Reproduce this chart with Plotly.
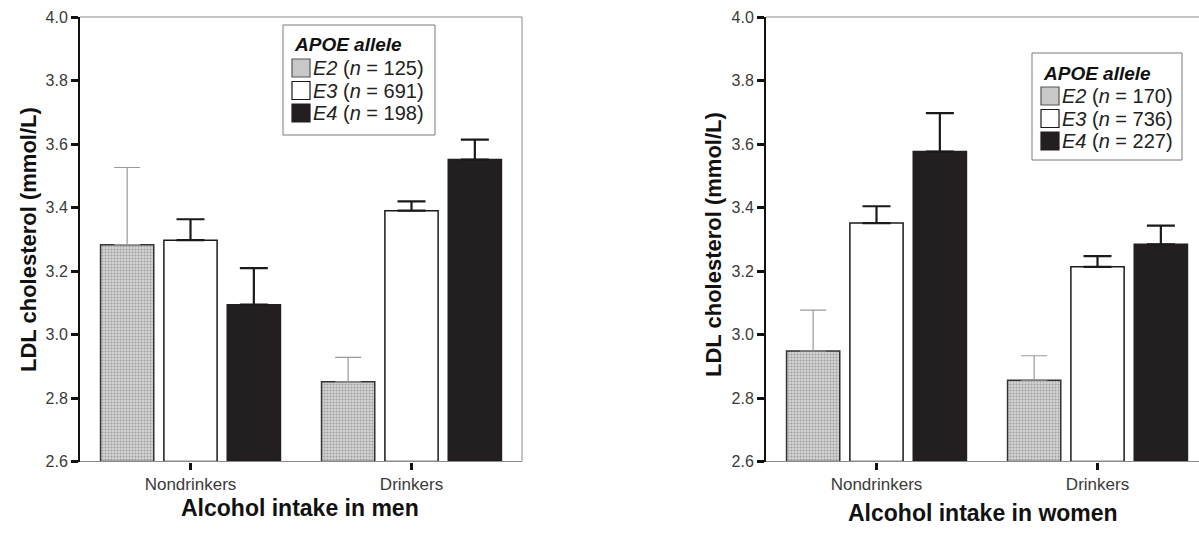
import plotly.graph_objects as go

categories = ["Nondrinkers", "Drinkers"]
alleles = ["E2", "E3", "E4"]

men_n = [125, 691, 198]
women_n = [170, 736, 227]

men_mean = {"E2": [3.283, 2.851], "E3": [3.297, 3.390], "E4": [3.094, 3.551]}
men_upper = {"E2": [3.526, 2.928], "E3": [3.363, 3.419], "E4": [3.209, 3.614]}

women_mean = {"E2": [2.948, 2.856], "E3": [3.351, 3.213], "E4": [3.576, 3.284]}
women_upper = {"E2": [3.077, 2.933], "E3": [3.404, 3.247], "E4": [3.697, 3.343]}

legend_title = "APOE allele"

W, H = 1199, 534
FONT = "Liberation Sans, Arial, Helvetica, sans-serif"

styles = {
    "E2": dict(color="#c4c4c4", line=dict(color="#333333", width=1.5),
               pattern=dict(shape=".", fgcolor="#6e6e6e", bgcolor="#d4d4d4", size=3, solidity=0.4)),
    "E3": dict(color="#ffffff", line=dict(color="#1a1a1a", width=1.5)),
    "E4": dict(color="#231f20", line=dict(color="#231f20", width=1.5)),
}
swatch = {
    "E2": dict(fill="#c8c8c8", line="#555555"),
    "E3": dict(fill="#ffffff", line="#1a1a1a"),
    "E4": dict(fill="#231f20", line="#231f20"),
}
err_style = {
    "E2": dict(color="#9a9a9a", thickness=1.2, width=13),
    "E3": dict(color="#1a1a1a", thickness=2.2, width=14),
    "E4": dict(color="#1a1a1a", thickness=2.2, width=14),
}

fig = go.Figure()

def add_panel(mean, upper, ns, xa, ya):
    for a, n in zip(alleles, ns):
        plus = [u - m for u, m in zip(upper[a], mean[a])]
        fig.add_trace(go.Bar(
            x=[0, 1], y=[v - 2.6 for v in mean[a]], base=2.6,
            name=f"{a} (n = {n})",
            marker=styles[a],
            error_y=dict(type="data", symmetric=False, array=plus,
                         arrayminus=[0, 0], **err_style[a]),
            xaxis=xa, yaxis=ya, showlegend=False,
        ))

add_panel(men_mean, men_upper, men_n, "x", "y")
add_panel(women_mean, women_upper, women_n, "x2", "y2")

y_top, y_bot = 17, 461.5
ydom = [(H - y_bot) / H, (H - y_top) / H]
L1, R1 = 80, 522
L2, R2 = 766, 1199
ppu = (R1 - L1) / 2.0

yaxis_common = dict(
    range=[2.6, 4.0], tickvals=[2.6, 2.8, 3.0, 3.2, 3.4, 3.6, 3.8, 4.0],
    ticktext=["2.6", "2.8", "3.0", "3.2", "3.4", "3.6", "3.8", "4.0"],
    showline=True, linecolor="#111111", linewidth=2,
    ticks="outside", ticklen=7, tickwidth=2.5, tickcolor="#111111",
    tickfont=dict(family=FONT, size=16, color="#3a3a3a"),
    showgrid=False, zeroline=False, domain=ydom, fixedrange=True, automargin=False,
)
xaxis_common = dict(
    tickvals=[0, 1], ticktext=categories, showline=False,
    ticks="outside", ticklen=7, tickwidth=2.5, tickcolor="#111111",
    tickfont=dict(family=FONT, size=17, color="#3a3a3a"),
    showgrid=False, zeroline=False, fixedrange=True, automargin=False,
)

fig.update_layout(
    width=W, height=H,
    margin=dict(l=0, r=0, t=0, b=0, autoexpand=False),
    paper_bgcolor="white", plot_bgcolor="white",
    barmode="group", bargap=0.14, bargroupgap=0.16,
    showlegend=False,
    xaxis=dict(domain=[L1 / W, R1 / W], range=[-0.5, 1.5], anchor="y", **xaxis_common),
    yaxis=dict(anchor="x", **yaxis_common),
    xaxis2=dict(domain=[L2 / W, R2 / W], range=[-0.5, -0.5 + (R2 - L2) / ppu], anchor="y2", **xaxis_common),
    yaxis2=dict(anchor="x2", **yaxis_common),
)

def px(x):
    return x / W

def py(y):
    return 1 - y / H

frame = dict(color="#8a8a8a", width=1)
fig.add_shape(type="line", xref="x domain", yref="y domain", x0=0, x1=1, y0=1, y1=1, line=frame)
fig.add_shape(type="line", xref="x domain", yref="y domain", x0=1, x1=1, y0=0, y1=1, line=frame)
fig.add_shape(type="line", xref="x domain", yref="y domain", x0=0, x1=1, y0=0, y1=0, line=frame)
fig.add_shape(type="line", xref="x2 domain", yref="y2 domain", x0=0, x1=1, y0=1, y1=1, line=frame)
fig.add_shape(type="line", xref="x2 domain", yref="y2 domain", x0=0, x1=1, y0=0, y1=0, line=frame)

# legends (drawn as box + swatches + text)
def add_legend(box, title_y, rows_y, ns):
    x0, y0, x1, y1 = box
    fig.add_shape(type="rect", xref="paper", yref="paper", x0=px(x0), x1=px(x1),
                  y0=py(y1), y1=py(y0), line=dict(color="#7a7a7a", width=1), fillcolor="white",
                  layer="above")
    fig.add_annotation(text=f"<b><i>{legend_title}</i></b>", xref="paper", yref="paper",
                       x=px(x0 + 9), y=py(title_y), xanchor="left", yanchor="middle",
                       showarrow=False, font=dict(family=FONT, size=19, color="#111111"))
    for a, n, ry in zip(alleles, ns, rows_y):
        sx0 = x0 + 9
        fig.add_shape(type="rect", xref="paper", yref="paper", x0=px(sx0), x1=px(sx0 + 18),
                      y0=py(ry + 9), y1=py(ry - 9), fillcolor=swatch[a]["fill"],
                      line=dict(color=swatch[a]["line"], width=1.2), layer="above")
        fig.add_annotation(text=f"<i>{a}</i> (<i>n</i> = {n})", xref="paper", yref="paper",
                           x=px(sx0 + 19), y=py(ry), xanchor="left", yanchor="middle",
                           showarrow=False, font=dict(family=FONT, size=20, color="#222222"))

add_legend((283, 25, 435, 135), 45, [68, 90.5, 113], men_n)
add_legend((1032, 53, 1182, 160), 73, [96, 118.5, 141], women_n)

title_font = dict(family=FONT, size=22, color="#111111")
fig.add_annotation(text="<b>LDL cholesterol (mmol/L)</b>", xref="paper", yref="paper",
                   x=px(28), y=py(240), textangle=-90, showarrow=False, font=title_font,
                   xanchor="center", yanchor="middle")
fig.add_annotation(text="<b>LDL cholesterol (mmol/L)</b>", xref="paper", yref="paper",
                   x=px(713), y=py(245), textangle=-90, showarrow=False, font=title_font,
                   xanchor="center", yanchor="middle")
xt_font = dict(family=FONT, size=23, color="#111111")
fig.add_annotation(text="<b>Alcohol intake in men</b>", xref="paper", yref="paper",
                   x=px(300), y=py(508), showarrow=False, font=xt_font,
                   xanchor="center", yanchor="middle")
fig.add_annotation(text="<b>Alcohol intake in women</b>", xref="paper", yref="paper",
                   x=px(983), y=py(513), showarrow=False, font=xt_font,
                   xanchor="center", yanchor="middle")

fig.write_html("out.html", config={"displayModeBar": False},
               post_script="document.body.style.margin='0';document.body.style.overflow='hidden';")
